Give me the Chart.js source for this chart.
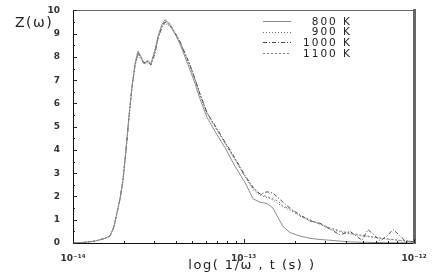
<!DOCTYPE html>
<html lang="en">
<head>
  <meta charset="UTF-8" />
  <title>Z(ω) spectrum</title>
  <script src="https://cdn.jsdelivr.net/npm/chart.js"></script>
  <style>
    html, body { margin: 0; padding: 0; background: #fff; }
    #wrap { position: relative; width: 436px; height: 273px; font-family: "DejaVu Sans", Arial, sans-serif; color: #222; }
    #wrap canvas { position: absolute; left: 0; top: 0; }
    .lbl { position: absolute; white-space: nowrap; line-height: 1; }
    #ytitle { left: 15px; top: 15px; font-size: 14px; letter-spacing: 1.5px; }
    #xtitle { left: 0; width: 504px; top: 258px; font-size: 13px; letter-spacing: 1.5px; text-align: center; }
    .leg { right: 84px; font-size: 10.5px; letter-spacing: 2px; text-align: right; }
  </style>
</head>
<body>
  <div id="wrap">
    <canvas id="zChart" width="436" height="273"></canvas>
  </div>

  <script>
    // log10 of 1/omega (s), shared by all curves
    const logT = [
      -14.000, -13.930, -13.871, -13.812, -13.783, -13.760, -13.742, -13.724, -13.707, -13.689,
      -13.672, -13.654, -13.636, -13.619, -13.601, -13.584, -13.560, -13.543, -13.519, -13.501,
      -13.478, -13.460, -13.431, -13.402, -13.372, -13.343, -13.314, -13.284, -13.255, -13.214,
      -13.167, -13.109, -13.050, -12.991, -12.944, -12.903, -12.862, -12.827, -12.798, -12.768,
      -12.727, -12.669, -12.610, -12.551, -12.493, -12.434, -12.375, -12.340, -12.305, -12.270,
      -12.235, -12.199, -12.158, -12.123, -12.088, -12.053, -12.000
    ];

    const z800 = [
      0.00, 0.03, 0.08, 0.20, 0.30, 0.70, 1.30, 1.90, 2.70, 4.00,
      5.40, 6.70, 7.70, 8.25, 8.00, 7.70, 7.85, 7.70, 8.30, 8.90,
      9.40, 9.60, 9.40, 9.00, 8.55, 8.00, 7.45, 6.85, 6.20, 5.40,
      4.80, 4.10, 3.30, 2.60, 1.90, 1.75, 1.70, 1.50, 1.10, 0.70,
      0.45, 0.30, 0.20, 0.15, 0.12, 0.08, 0.05, 0.04, 0.03, 0.03,
      0.02, 0.02, 0.01, 0.01, 0.01, 0.01, 0.00
    ];
    const z900 = [
      0.00, 0.03, 0.08, 0.20, 0.30, 0.70, 1.30, 1.90, 2.70, 4.00,
      5.40, 6.70, 7.60, 8.10, 7.90, 7.70, 7.75, 7.70, 8.20, 8.80,
      9.25, 9.45, 9.30, 9.00, 8.60, 8.10, 7.60, 7.00, 6.35, 5.55,
      5.00, 4.30, 3.60, 2.85, 2.30, 2.05, 1.95, 1.85, 1.70, 1.55,
      1.40, 1.15, 0.95, 0.80, 0.60, 0.48, 0.40, 0.35, 0.30, 0.27,
      0.23, 0.20, 0.16, 0.14, 0.10, 0.08, 0.05
    ];
    const z1000 = [
      0.00, 0.03, 0.08, 0.20, 0.30, 0.70, 1.30, 1.90, 2.70, 4.00,
      5.40, 6.70, 7.70, 8.20, 8.00, 7.75, 7.80, 7.65, 8.15, 8.80,
      9.30, 9.50, 9.35, 9.05, 8.65, 8.15, 7.65, 7.05, 6.40, 5.60,
      5.05, 4.35, 3.65, 2.90, 2.40, 2.10, 2.20, 2.15, 1.95, 1.75,
      1.50, 1.20, 0.95, 0.85, 0.60, 0.35, 0.50, 0.30, 0.12, 0.58,
      0.35, 0.10, 0.30, 0.58, 0.35, 0.10, 0.05
    ];
    const z1100 = [
      0.00, 0.03, 0.08, 0.20, 0.30, 0.70, 1.30, 1.90, 2.70, 4.00,
      5.40, 6.70, 7.65, 8.15, 7.95, 7.75, 7.80, 7.70, 8.25, 8.85,
      9.35, 9.55, 9.40, 9.05, 8.65, 8.15, 7.65, 7.05, 6.40, 5.60,
      5.00, 4.30, 3.60, 2.85, 2.35, 2.10, 2.00, 1.90, 1.80, 1.60,
      1.45, 1.20, 1.00, 0.82, 0.65, 0.52, 0.42, 0.38, 0.33, 0.30,
      0.25, 0.22, 0.18, 0.15, 0.12, 0.09, 0.06
    ];

    const seriesNames = ['800 K', '900 K', '1000 K', '1100 K'];
    const seriesValues = [z800, z900, z1000, z1100];
    const seriesColors = ['#8c8c8c', '#707070', '#4a4a4a', '#808080'];
    const seriesDash = [[], [1, 2], [4, 2, 1, 2], [2, 2]];

    const xDecades = [-14, -13, -12];
    const yTicks = [0, 1, 2, 3, 4, 5, 6, 7, 8, 9, 10];
    const xTitle = 'log( 1/ω , t (s) )';
    const yTitle = 'Z(ω)';
    const legendY = [21, 31.7, 42.4, 53.1];

    const supers = { '-': '⁻', '0': '⁰', '1': '¹', '2': '²', '3': '³', '4': '⁴', '5': '⁵', '6': '⁶', '7': '⁷', '8': '⁸', '9': '⁹' };
    const sup = s => String(s).split('').map(c => supers[c] || c).join('');
    const FONT = '"DejaVu Sans", Arial, sans-serif';

    // text labels as html over the canvas
    const wrap = document.getElementById('wrap');
    const addLabel = (id, cls, text, top) => {
      const el = document.createElement('div');
      if (id) el.id = id;
      el.className = 'lbl ' + cls;
      el.textContent = text;
      if (top !== undefined) el.style.top = top + 'px';
      wrap.appendChild(el);
    };
    addLabel('ytitle', '', yTitle);
    addLabel('xtitle', '', xTitle);
    seriesNames.forEach((n, i) => addLabel(null, 'leg', n, legendY[i] - 5.5));

    const datasets = seriesNames.map((name, i) => ({
      label: name,
      data: logT.map((lt, k) => ({ x: Math.pow(10, lt), y: seriesValues[i][k] })),
      borderColor: seriesColors[i],
      borderDash: seriesDash[i],
      borderWidth: 1,
      pointRadius: 0,
      tension: 0,
      fill: false
    }));

    // inside tick marks and legend samples
    const decor = {
      id: 'decor',
      afterDatasetsDraw(chart) {
        const ctx = chart.ctx, a = chart.chartArea;
        const xs = chart.scales.x, ys = chart.scales.y;
        const seg = (x1, y1, x2, y2) => { ctx.beginPath(); ctx.moveTo(x1, y1); ctx.lineTo(x2, y2); ctx.stroke(); };
        ctx.save();
        ctx.setLineDash([]);
        ctx.strokeStyle = '#222';
        ctx.lineWidth = 1;
        yTicks.forEach(v => {
          [v, v + 0.5].forEach((t, j) => {
            if (t > 10) return;
            const py = Math.round(ys.getPixelForValue(t)) + 0.5;
            seg(a.left, py, a.left + (j === 0 ? 4 : 2), py);
          });
        });
        xDecades.forEach(d => {
          for (let m = 1; m <= 9; m++) {
            const v = m * Math.pow(10, d);
            if (v > 1.0001e-12) break;
            const px = Math.round(xs.getPixelForValue(v)) + 0.5;
            seg(px, a.bottom, px, a.bottom - (m === 1 ? 4 : 2));
          }
        });
        seriesNames.forEach((name, i) => {
          const yy = Math.round(legendY[i]) + 0.5;
          ctx.strokeStyle = seriesColors[i];
          ctx.setLineDash(seriesDash[i]);
          seg(263, yy, 291, yy);
        });
        ctx.restore();
      }
    };

    new Chart(document.getElementById('zChart'), {
      type: 'line',
      data: { datasets },
      plugins: [decor],
      options: {
        responsive: false,
        animation: false,
        layout: { autoPadding: false, padding: { top: 5, right: 20, left: 0, bottom: 0 } },
        plugins: { legend: { display: false }, tooltip: { enabled: false } },
        scales: {
          x: {
            type: 'logarithmic',
            min: 1e-14,
            max: 1e-12,
            afterBuildTicks: s => { s.ticks = xDecades.map(d => ({ value: Math.pow(10, d) })); },
            afterFit: s => { s.height = 30; },
            grid: { display: false },
            border: { display: true, color: '#111', width: 1 },
            ticks: {
              autoSkip: false,
              maxRotation: 0,
              padding: 2,
              color: '#333',
              font: { family: FONT, size: 9, weight: 'bold' },
              callback: v => '10' + sup(Math.round(Math.log10(v)))
            }
          },
          xTop: {
            type: 'logarithmic',
            position: 'top',
            min: 1e-14,
            max: 1e-12,
            afterFit: s => { s.height = 0; },
            grid: { display: false },
            ticks: { display: false },
            border: { display: true, color: '#6a6a6a', width: 1 }
          },
          y: {
            min: 0,
            max: 10,
            afterBuildTicks: s => { s.ticks = yTicks.map(v => ({ value: v })); },
            afterFit: s => { s.width = 73; },
            grid: { display: false },
            border: { display: true, color: '#111', width: 1 },
            ticks: {
              padding: 5,
              color: '#333',
              font: { family: FONT, size: 9, weight: 'bold' }
            }
          },
          yRight: {
            position: 'right',
            min: 0,
            max: 10,
            afterFit: s => { s.width = 2; },
            grid: { display: false },
            ticks: { display: false },
            border: { display: true, color: '#666', width: 3 }
          }
        }
      }
    });
  </script>
</body>
</html>
